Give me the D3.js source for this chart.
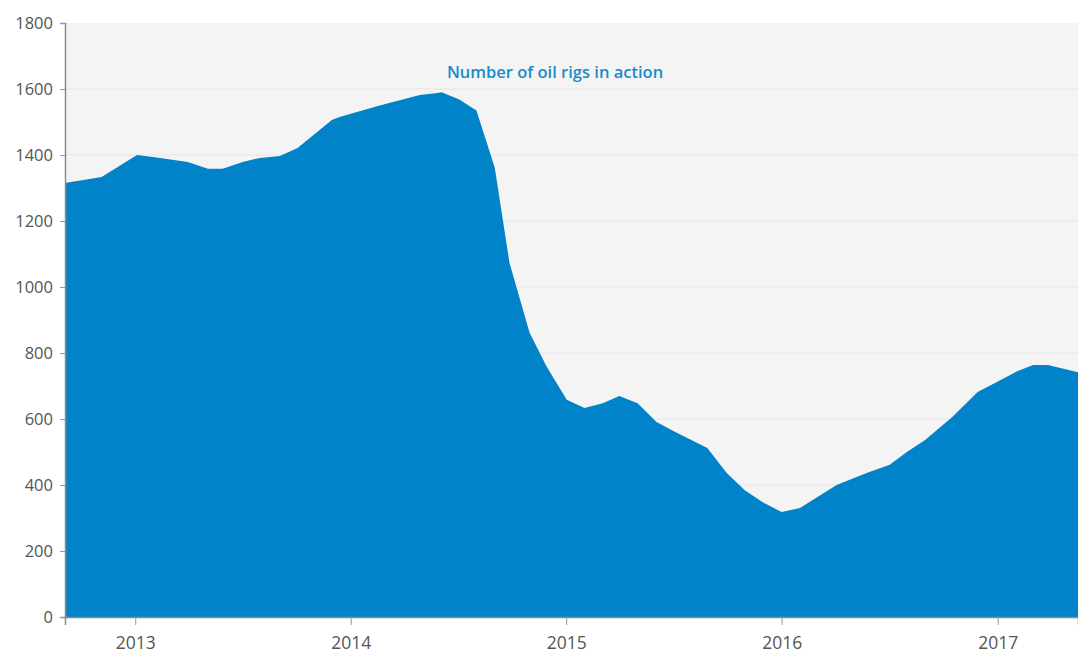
<!DOCTYPE html>
<html>
<head>
<meta charset="utf-8">
<script src="https://cdn.jsdelivr.net/npm/d3@7"></script>
<style>
  html, body { margin: 0; padding: 0; background: #ffffff; }
  svg { display: block; }
  text { font-family: "Open Sans", "Noto Sans", sans-serif; }
</style>
</head>
<body>
<svg id="chart" width="1078" height="655"></svg>
<script>
// ---- Data ----
const dates = [
  "2012-09-04","2012-11-05","2013-01-04","2013-01-31","2013-03-31","2013-05-04",
  "2013-05-29","2013-07-02","2013-07-31","2013-09-03","2013-10-03","2013-11-30",
  "2013-12-13","2014-02-19","2014-04-28","2014-05-28","2014-06-04","2014-07-04",
  "2014-08-02","2014-09-02","2014-09-27","2014-10-31","2014-11-29","2015-01-02",
  "2015-02-01","2015-03-04","2015-04-01","2015-05-02","2015-06-03","2015-07-04",
  "2015-08-28","2015-09-30","2015-10-30","2015-11-30","2016-01-01","2016-02-01",
  "2016-04-03","2016-05-24","2016-07-02","2016-07-31","2016-08-31","2016-10-16",
  "2016-11-28","2017-01-06","2017-02-03","2017-03-02","2017-03-27","2017-05-17"
];
const rigs = [
  1315,1333,1400,1394,1379,1358,
  1358,1379,1391,1397,1421,1506,
  1515,1550,1582,1588,1590,1568,
  1535,1361,1073,861,758,658,
  633,648,670,648,591,561,
  512,436,385,348,318,330,
  400,436,461,500,536,606,
  682,718,745,764,764,742
];
const yTicks = [0,200,400,600,800,1000,1200,1400,1600,1800];
const xTickYears = ["2013","2014","2015","2016","2017"];
const seriesLabel = "Number of oil rigs in action";

// ---- Layout ----
const W = 1078, H = 655;
const margin = { left: 65, right: 0, top: 23, bottom: 38 };
const svg = d3.select("#chart");
const parse = d3.timeParse("%Y-%m-%d");
const data = dates.map((d, i) => ({ date: parse(d), value: rigs[i] }));

const x = d3.scaleTime()
  .domain(d3.extent(data, d => d.date))
  .range([margin.left, W - margin.right]);
const y = d3.scaleLinear()
  .domain([0, 1800])
  .range([H - margin.bottom, margin.top]);

// plot background
svg.append("rect")
  .attr("x", margin.left).attr("y", y(1800))
  .attr("width", W - margin.right - margin.left)
  .attr("height", y(0) - y(1800))
  .attr("fill", "#f4f4f4");

// gridlines
svg.append("g")
  .selectAll("line")
  .data(yTicks.filter(t => t > 0 && t < 1800))
  .join("line")
  .attr("x1", margin.left).attr("x2", W - margin.right)
  .attr("y1", d => y(d)).attr("y2", d => y(d))
  .attr("stroke", "#e4e4e4").attr("stroke-width", 1);

// area
const area = d3.area()
  .x(d => x(d.date))
  .y0(y(0))
  .y1(d => y(d.value));
svg.append("path")
  .datum(data)
  .attr("d", area)
  .attr("fill", "#0083c8");

// y axis
const yAxis = d3.axisLeft(y).tickValues(yTicks).tickSize(5).tickPadding(7).tickFormat(d3.format("d"));
const gy = svg.append("g")
  .attr("transform", `translate(${margin.left},0)`)
  .call(yAxis);
gy.select(".domain").attr("stroke", "#8a8a8a").attr("stroke-width", 1.5);
gy.selectAll(".tick line").attr("stroke", "#9a9a9a");
gy.selectAll(".tick text")
  .attr("fill", "#555").attr("font-size", 16.5)
  .style("font-family", '"Open Sans", sans-serif');

// x axis
const xTickDates = xTickYears.map(s => parse(s + "-01-01"));
const xAxis = d3.axisBottom(x).tickValues(xTickDates).tickSize(8).tickPadding(12)
  .tickFormat(d3.timeFormat("%Y"));
const gx = svg.append("g")
  .attr("transform", `translate(0,${y(0)})`)
  .call(xAxis);
gx.select(".domain").attr("stroke", "#8a8a8a").attr("stroke-width", 1.5);
gx.selectAll(".tick line").attr("stroke", "#9a9a9a");
gx.selectAll(".tick text")
  .attr("fill", "#555").attr("font-size", 17.5)
  .style("font-family", '"Open Sans", sans-serif');

// series label
svg.append("text")
  .attr("x", 555).attr("y", 78)
  .attr("text-anchor", "middle")
  .attr("font-size", 16.5)
  .attr("font-weight", 600)
  .attr("fill", "#1a8acb")
  .text(seriesLabel);
</script>
</body>
</html>
